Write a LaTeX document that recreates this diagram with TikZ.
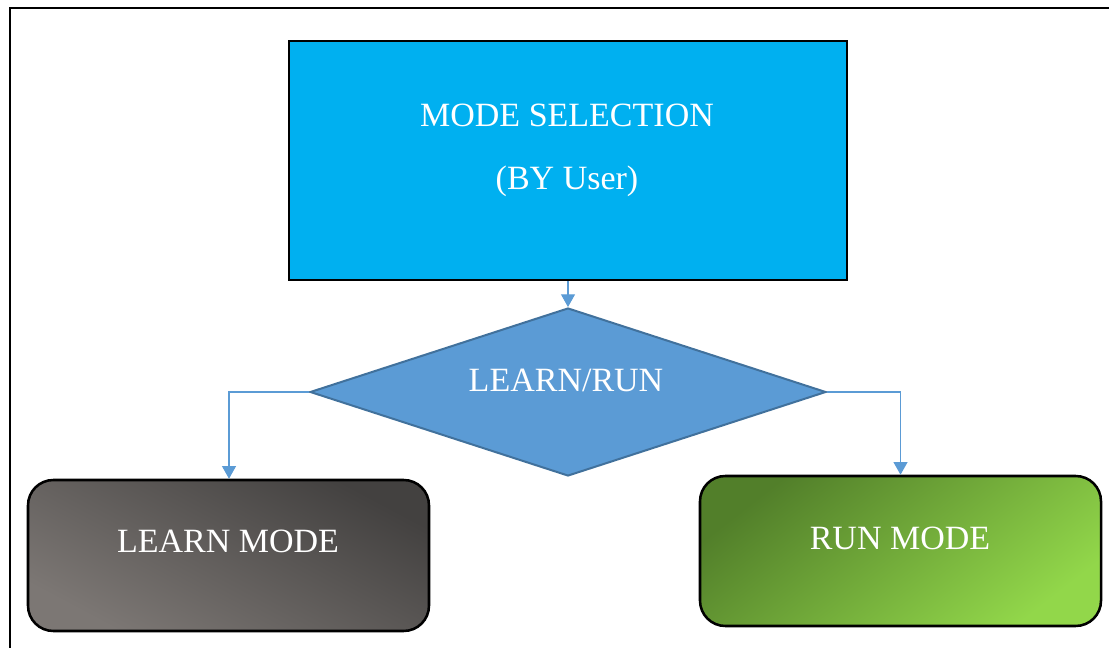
\documentclass[tikz,border=0pt]{standalone}
\usepackage{fontspec}
\setmainfont{Liberation Serif}
\usetikzlibrary{shapes.geometric,arrows.meta}

\definecolor{boxblue}{HTML}{00B0F0}
\definecolor{diafill}{HTML}{5B9BD5}
\definecolor{diaedge}{HTML}{41719C}
\definecolor{linkblue}{HTML}{5B9BD5}
\definecolor{greydark}{HTML}{434140}
\definecolor{greylight}{HTML}{7C7774}
\definecolor{greendark}{HTML}{527F2A}
\definecolor{greenlight}{HTML}{92D74A}

\tikzset{
  label text/.style={text=white, font=\fontsize{25.5}{30}\selectfont, inner sep=0pt, anchor=base},
  modebox/.style={draw=black, line width=1.9pt, rounded corners=19pt, inner sep=0pt},
  link/.style={draw=linkblue, line width=0.8pt, -{Triangle[width=10.5pt,length=9.5pt]}}
}

\begin{document}
\begin{tikzpicture}[x=0.75pt, y=-0.75pt]
  \useasboundingbox (0,0) rectangle (1109,648);

  % outer frame, running off the right and bottom edges
  \draw[line width=1.5pt] (10,660) -- (10,8) -- (1120,8);

  % mode selection box
  \node (sel) [draw=black, line width=1.9pt, fill=boxblue, minimum width=558*0.75pt,
        minimum height=239*0.75pt, inner sep=0pt] at (568,160.5) {};
  \node (selA) [label text] at (567,127) {MODE SELECTION};
  \node (selB) [label text] at (567,190) {(BY User)};

  % decision diamond
  \node (dia) [diamond, draw=diaedge, line width=1.5pt, fill=diafill, inner sep=0pt,
        minimum width=516*0.75pt, minimum height=168*0.75pt] at (568,392) {};
  \node (diaT) [label text] at (566,391) {LEARN/RUN};

  % learn mode box
  \node (learn) [modebox, minimum width=401*0.75pt, minimum height=151*0.75pt,
        top color=greydark, bottom color=greylight, shading angle=-28] at (228.5,555.5) {};
  \node (learnT) [label text] at (228,552) {LEARN MODE};

  % run mode box
  \node (run) [modebox, minimum width=401*0.75pt, minimum height=150*0.75pt,
        top color=greendark, bottom color=greenlight, shading angle=38] at (900.5,551) {};
  \node (runT) [label text] at (900,549) {RUN MODE};

  % connectors
  \draw[link] (sel.south) -- (dia.north);
  \draw[link] (dia.west) -| (learn.north -| 229,0);
  \draw[link] (dia.east) -| (run.north);
\end{tikzpicture}
\end{document}
